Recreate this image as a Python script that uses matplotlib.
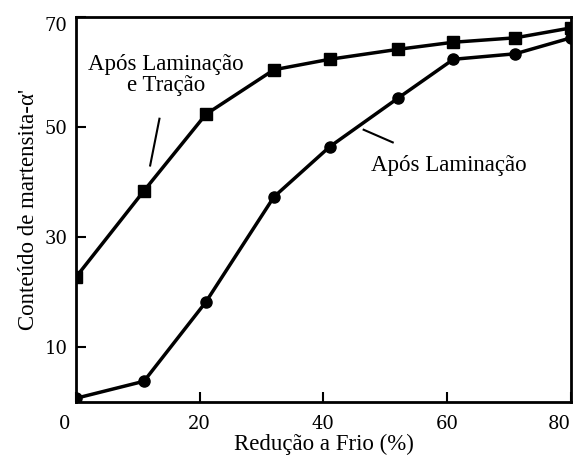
import matplotlib
matplotlib.use("Agg")
import matplotlib.pyplot as plt
import matplotlib.transforms as mtransforms

# Dados
reducao = [0, 11, 21, 32, 41, 52, 61, 71, 80]
lam_tracao = [22.7, 38.4, 52.3, 60.4, 62.3, 64.1, 65.4, 66.2, 68.0]
laminacao = [0.7, 3.8, 18.2, 37.3, 46.4, 55.2, 62.3, 63.3, 66.2]
xticks = [0, 20, 40, 60, 80]
yticks = [10, 30, 50, 70]

plt.rcParams['font.family'] = ['Liberation Serif', 'DejaVu Serif']

fig = plt.figure(figsize=(5.75, 4.57), dpi=100)
ax = fig.add_axes([0.132, 0.120, 0.861, 0.843])

ax.plot(reducao, lam_tracao, color="black", lw=2.5, marker="s", ms=8)
ax.plot(reducao, laminacao, color="black", lw=2.5, marker="o", ms=8)

ax.set_xlim(0, 80)
ax.set_ylim(0, 70)
ax.set_xticks(xticks)
ax.set_yticks(yticks)
ax.tick_params(direction="in", length=7, width=1.5, pad=9)
ax.set_xticklabels([str(v) for v in xticks], family="DejaVu Serif", fontsize=13)
ax.set_yticklabels([str(v) for v in yticks], family="DejaVu Serif", fontsize=13)
ax.tick_params(axis="y", pad=6)
# rótulos das extremidades deslocados para dentro da figura
xl = ax.get_xticklabels()
xl[0].set_ha("right")
xl[0].set_transform(xl[0].get_transform() + mtransforms.ScaledTranslation(-0.06, 0, fig.dpi_scale_trans))
xl[-1].set_ha("right")
yl = ax.get_yticklabels()
yl[-1].set_va("top")
for s in ax.spines.values():
    s.set_linewidth(2)

ax.set_xlabel("Redução a Frio (%)", fontsize=16.5, labelpad=1)
ax.set_ylabel("Conteúdo de martensita-α'", fontsize=16.5, labelpad=4)

# anotações
ax.text(14.5, 59.5, "Após Laminação\ne Tração", fontsize=16.5, ha="center", va="center", linespacing=1.0)
ax.plot([13.5, 12], [51.5, 43], color="black", lw=1.5)
ax.text(60.3, 43, "Após Laminação", fontsize=16.5, ha="center", va="center")
ax.plot([46.5, 51.2], [49.5, 47.2], color="black", lw=1.5)

plt.savefig("out.png", dpi=100)
